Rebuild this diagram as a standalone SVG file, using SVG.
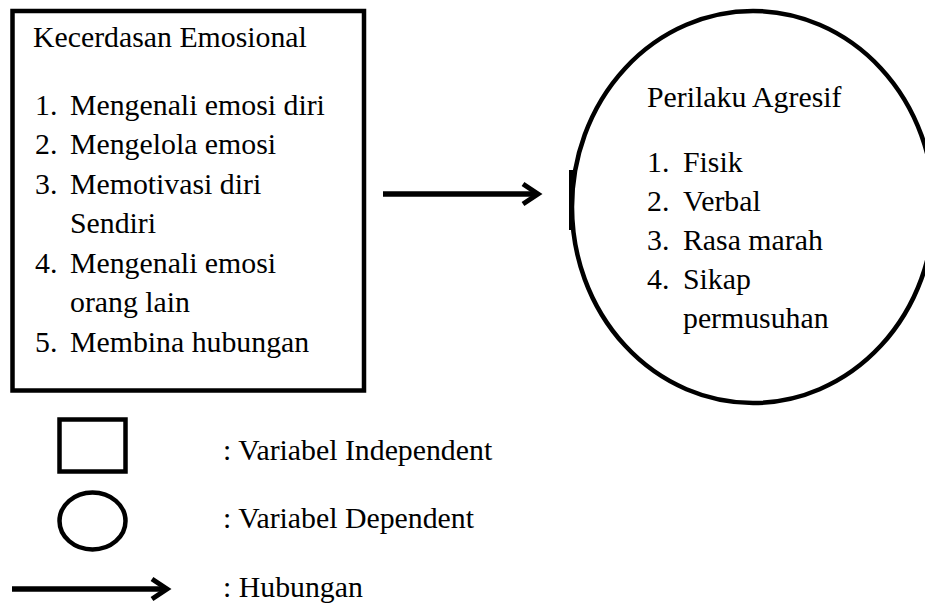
<svg xmlns="http://www.w3.org/2000/svg" width="925" height="603" viewBox="0 0 925 603">
  <style>
    .t { font-family: "Liberation Serif", "Times New Roman", Times, Tinos, "Noto Serif", "DejaVu Serif", FreeSerif, serif; font-size: 29.8px; fill: #000; }
    .box { fill: none; stroke: #000; stroke-width: 4.5; }
    .conn { stroke: #000; stroke-width: 5.5; fill: none; }
  </style>
  <defs>
    <marker id="chev" markerUnits="userSpaceOnUse" markerWidth="30" markerHeight="30" viewBox="0 0 30 30" refX="20" refY="15" orient="auto">
      <polyline points="5,5 20,15 5,25" fill="none" stroke="#000" stroke-width="5" stroke-linejoin="miter" stroke-miterlimit="10"/>
    </marker>
  </defs>
  <rect width="925" height="603" fill="#fff"/>

  <g id="node-kecerdasan" font-family="Liberation Serif, serif">
    <rect class="box" x="12.5" y="11" width="351.5" height="379.5"/>
    <text class="t" x="33" y="47">Kecerdasan Emosional</text>
    <text class="t" x="35" y="115">1.</text><text class="t" x="70" y="115">Mengenali emosi diri</text>
    <text class="t" x="35" y="154.3">2.</text><text class="t" x="70" y="154.3">Mengelola emosi</text>
    <text class="t" x="35" y="193.5">3.</text><text class="t" x="70" y="193.5">Memotivasi diri</text>
    <text class="t" x="70" y="233">Sendiri</text>
    <text class="t" x="35" y="272.5">4.</text><text class="t" x="70" y="272.5">Mengenali emosi</text>
    <text class="t" x="70" y="311.8">orang lain</text>
    <text class="t" x="35" y="351.5">5.</text><text class="t" x="70" y="351.5">Membina hubungan</text>
  </g>

  <g id="node-perilaku">
    <ellipse class="box" cx="753" cy="207" rx="181" ry="196"/>
    <line x1="571" y1="170" x2="571" y2="230" stroke="#000" stroke-width="4"/>
    <text class="t" x="647" y="107">Perilaku Agresif</text>
    <text class="t" x="647" y="172">1.</text><text class="t" x="683" y="172">Fisik</text>
    <text class="t" x="647" y="211">2.</text><text class="t" x="683" y="211">Verbal</text>
    <text class="t" x="647" y="250">3.</text><text class="t" x="683" y="250">Rasa marah</text>
    <text class="t" x="647" y="288.5">4.</text><text class="t" x="683" y="288.5">Sikap</text>
    <text class="t" x="683" y="328">permusuhan</text>
  </g>

  <g id="connectors">
    <line class="conn" x1="383" y1="194" x2="538" y2="194" marker-end="url(#chev)"/>
  </g>

  <g id="legend-independent">
    <rect class="box" x="59.5" y="419.5" width="66" height="52"/>
    <text class="t" x="223" y="460">: Variabel Independent</text>
  </g>
  <g id="legend-dependent">
    <ellipse class="box" cx="92.5" cy="521" rx="33" ry="28.5"/>
    <text class="t" x="223" y="528.3">: Variabel Dependent</text>
  </g>
  <g id="legend-hubungan">
    <line class="conn" x1="12" y1="589" x2="167" y2="589" marker-end="url(#chev)"/>
    <text class="t" x="223" y="596.7">: Hubungan</text>
  </g>
</svg>
